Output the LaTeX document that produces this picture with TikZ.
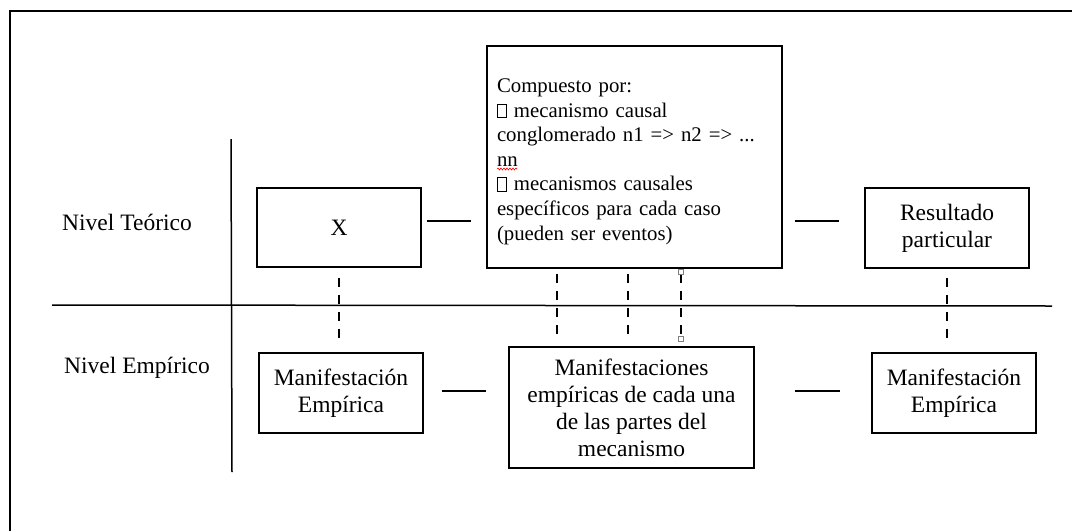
\documentclass[tikz,border=0pt]{standalone}
\usepackage{fontspec}
\setmainfont{Liberation Serif}
\usetikzlibrary{decorations.pathmorphing}
\newcommand\nobox{{\setlength\fboxsep{0pt}\setlength\fboxrule{0.6pt}\fbox{\rule{0pt}{0.62em}\hspace{0.42em}}}}
\begin{document}
\begin{tikzpicture}[x=1pt,y=-1pt,line width=1.5pt,
  caja/.style={draw,line width=1.7pt,inner sep=0pt,align=center,font=\fontsize{23.5}{27}\selectfont},
  guion/.style={dashed,dash pattern=on 9pt off 8pt,line width=1.8pt},
  asa/.style={draw=gray,fill=white,line width=0.7pt,minimum size=5pt,inner sep=0pt}]
\useasboundingbox(0,0)rectangle(1072,531);
% marco y ejes
\draw(10,531)--(10,11)--(1072,11);
\draw(231,139)--(232,472);
\draw(52,305)--(1052,306);
\node[font=\fontsize{23.5}{27}\selectfont](teo)at(127,222){Nivel Teórico};
\node[font=\fontsize{23.5}{27}\selectfont](emp)at(137,368){Nivel Empírico};
% nivel teorico
\node[caja,minimum width=164,minimum height=79](x)at(339,227.5){X};
\node[caja,minimum width=295,minimum height=222,align=left,inner xsep=10pt,text width=275,
  font=\fontsize{20.8}{24.6}\selectfont](comp)at(634.5,157){\rule{0pt}{23pt}Compuesto por:\\
\nobox{} mecanismo causal\\
conglomerado n1 => n2 => ...\\
nn\\
\nobox{} mecanismos causales\\
específicos para cada caso\\
(pueden ser eventos)};
\node[caja,minimum width=164,minimum height=80](res)at(947,228){Resultado\\particular};
% nivel empirico
\node[caja,minimum width=164,minimum height=80](manL)at(341,393){Manifestación\\Empírica};
\node[caja,minimum width=245,minimum height=121](manM)at(631.5,407.5){Manifestaciones\\empíricas de cada una\\de las partes del\\mecanismo};
\node[caja,minimum width=164,minimum height=80](manR)at(954,393){Manifestación\\Empírica};
% conectores
\draw[shorten <=5pt,shorten >=15pt]([yshift=6.5pt]x.east)--([yshift=6.5pt]x.east-|comp.west);
\draw[shorten <=12pt,shorten >=25pt]([yshift=7pt]comp.east|-res.west)--([yshift=7pt]res.west);
\draw[shorten <=18pt,shorten >=22pt]([yshift=2pt]manL.east)--([yshift=2pt]manL.east-|manM.west);
\draw[shorten <=40pt,shorten >=31pt]([yshift=2pt]manM.east|-manR.west)--([yshift=2pt]manR.west);
\draw[guion,shorten <=10pt,shorten >=12pt](x.south)--(x.south|-manL.north);
\draw[guion,shorten <=9pt,shorten >=13pt](res.south)--(res.south|-manR.north);
\foreach \dx in {-77.5,-6.5,46.5}
  \draw[guion,shorten <=5pt,shorten >=10pt]([xshift=\dx pt]comp.south)--([xshift=\dx pt]comp.south|-manM.north);
\node[asa](h1)at(681,272){};
\node[asa](h2)at(681,339){};
% subrayado ortografico
\draw[red,line width=0.6pt,decorate,decoration={snake,amplitude=1pt,segment length=3pt}](497,169)--(517,169);
\end{tikzpicture}
\end{document}
